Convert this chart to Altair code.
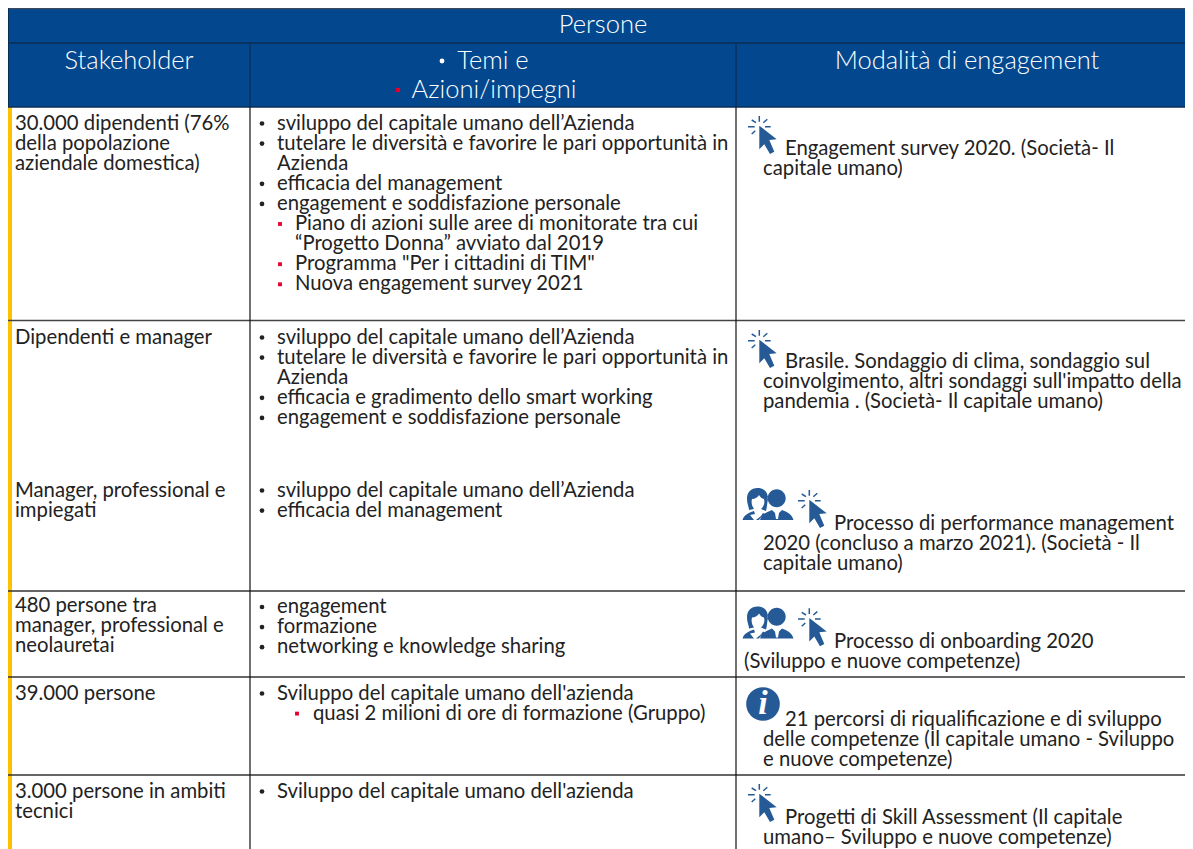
import altair as alt
import pandas as pd

FONT = "Lato"
BLUE = "#03488f"
INK = "#222222"
RED = "#e4002b"
ICON = "#255a96"
YELLOW = "#ffc000"

# ---------- table content ----------
title = "Persone"
headers = ["Stakeholder", "Temi e", "Azioni/impegni", "Modalità di engagement"]
header_x = [129, 493, 494, 967]
header_y = [61, 61, 90, 61]

stakeholder = [
    ["30.000 dipendenti (76%", "della popolazione", "aziendale domestica)"],
    ["Dipendenti e manager"],
    ["Manager, professional e", "impiegati"],
    ["480 persone tra", "manager, professional e", "neolauretai"],
    ["39.000 persone"],
    ["3.000 persone in ambiti", "tecnici"],
]
stakeholder_y = [123.5, 337.5, 490.5, 606, 693.5, 791.5]

themes = [
    [("b", "sviluppo del capitale umano dell’Azienda"),
     ("b", "tutelare le diversità e favorire le pari opportunità in"),
     ("c", "Azienda"),
     ("b", "efficacia del management"),
     ("b", "engagement e soddisfazione personale"),
     ("s", "Piano di azioni sulle aree di monitorate tra cui"),
     ("t", "“Progetto Donna” avviato dal 2019"),
     ("s", "Programma \"Per i cittadini di TIM\""),
     ("s", "Nuova engagement survey 2021")],
    [("b", "sviluppo del capitale umano dell’Azienda"),
     ("b", "tutelare le diversità e favorire le pari opportunità in"),
     ("c", "Azienda"),
     ("b", "efficacia e gradimento dello smart working"),
     ("b", "engagement e soddisfazione personale")],
    [("b", "sviluppo del capitale umano dell’Azienda"),
     ("b", "efficacia del management")],
    [("b", "engagement"), ("b", "formazione"), ("b", "networking e knowledge sharing")],
    [("b", "Sviluppo del capitale umano dell'azienda"),
     ("f", "quasi 2 milioni di ore di formazione (Gruppo)")],
    [("b", "Sviluppo del capitale umano dell'azienda")],
]
themes_y = [123.5, 337.5, 490.5, 607, 693.5, 791.5]

engagement = [
    ["Engagement survey 2020. (Società- Il", "capitale umano)"],
    ["Brasile. Sondaggio di clima, sondaggio sul",
     "coinvolgimento, altri sondaggi sull'impatto della",
     "pandemia . (Società- Il capitale umano)"],
    ["Processo di performance management",
     "2020 (concluso a marzo 2021). (Società - Il", "capitale umano)"],
    ["Processo di onboarding 2020", "(Sviluppo e nuove competenze)"],
    ["21 percorsi di riqualificazione e di sviluppo",
     "delle competenze (Il capitale umano - Sviluppo", "e nuove competenze)"],
    ["Progetti di Skill Assessment (Il capitale",
     "umano– Sviluppo e nuove competenze)"],
]
engagement_y = [148.5, 361.5, 523.5, 641.5, 719.5, 817.5]
engagement_x0 = [785, 785, 834, 834, 785, 785]
engagement_x1 = [763, 763, 763, 744, 763, 763]

cursor_x = [759.3, 759.3, 809.3, 809.3, 759.3]
cursor_y = [126.7, 340.7, 500.7, 619, 794.7]
people_x = [768, 768]
people_y = [505, 623.5]
info_x = [763]
info_y = [704]

LINE = 20.1

# ---------- tables built from the lists ----------
body, black, red = [], [], []
for lines, y in zip(stakeholder, stakeholder_y):
    for i, t in enumerate(lines):
        body.append({"t": t, "x": 15, "y": y + i * LINE})
text_x = {"b": 277, "c": 277, "s": 295, "t": 295, "f": 313}
for lines, y in zip(themes, themes_y):
    for i, (kind, t) in enumerate(lines):
        yy = y + i * LINE
        body.append({"t": t, "x": text_x[kind], "y": yy})
        if kind == "b":
            black.append({"x": 262, "y": yy})
        elif kind == "s":
            red.append({"x": 280, "y": yy})
        elif kind == "f":
            red.append({"x": 297, "y": yy})
for lines, y, x0, x1 in zip(engagement, engagement_y, engagement_x0, engagement_x1):
    for i, t in enumerate(lines):
        body.append({"t": t, "x": x0 if i == 0 else x1, "y": y + i * LINE})

body_df = pd.DataFrame(body)
head_df = pd.DataFrame({"t": [title] + headers,
                        "x": [603] + header_x,
                        "y": [25] + header_y})
black_df = pd.DataFrame(black)
red_df = pd.DataFrame(red)
cursor_df = pd.DataFrame({"x": cursor_x, "y": cursor_y})
people_df = pd.DataFrame({"x": people_x, "y": people_y})
info_df = pd.DataFrame({"x": info_x, "y": info_y})

# The page caps the drawing at 1177px wide, so the scale runs to 1185 in picture pixels.
X = alt.Scale(domain=[8, 1185], nice=False, zero=False)
Y = alt.Scale(domain=[849, 8], nice=False, zero=False)
def xe(f="x"): return alt.X(f"{f}:Q", scale=X, axis=None)
def ye(f="y"): return alt.Y(f"{f}:Q", scale=Y, axis=None)

header_rect = alt.Chart(pd.DataFrame({"x": [8], "x2": [1185], "y": [8], "y2": [107]})).mark_rect(
    color=BLUE, clip=False).encode(xe(), x2="x2:Q", y=ye(), y2="y2:Q")

yellow = alt.Chart(pd.DataFrame({"x": [8], "x2": [12], "y": [107], "y2": [849]})).mark_rect(
    color=YELLOW, clip=False).encode(xe(), x2="x2:Q", y=ye(), y2="y2:Q")

h_rules = pd.DataFrame({"x": [8] * 7,
                        "x2": [1185] * 7,
                        "y": [8.5, 43, 107, 320.5, 591, 677, 775],
                        "c": ["#3a4a5c", "#0b2e57", "#0b2e57", "#444444", "#333333", "#333333", "#333333"]})
h_rule_layer = alt.Chart(h_rules).mark_rule(strokeWidth=1.3).encode(
    xe(), x2="x2:Q", y=ye(), color=alt.Color("c:N", scale=None))
v_head = alt.Chart(pd.DataFrame({"x": [250, 736], "y": [43] * 2, "y2": [107] * 2})).mark_rule(
    color="#0b2e57", strokeWidth=1.3).encode(xe(), y=ye(), y2="y2:Q")
v_body = alt.Chart(pd.DataFrame({"x": [250, 736], "y": [107] * 2, "y2": [849] * 2})).mark_rule(
    color="#111111", strokeWidth=1.2).encode(xe(), y=ye(), y2="y2:Q")
v_left = alt.Chart(pd.DataFrame({"x": [8.5], "y": [8], "y2": [107]})).mark_rule(
    color="#0b2e57", strokeWidth=1).encode(xe(), y=ye(), y2="y2:Q")

head_text = alt.Chart(head_df).mark_text(font=FONT, fontSize=25.5, color="white", align="center",
                                         baseline="middle", fontWeight=300).encode(xe(), ye(), text="t:N")
head_b1 = alt.Chart(pd.DataFrame({"x": [442], "y": [61]})).mark_circle(size=24, color="white", opacity=1).encode(xe(), ye())
head_b2 = alt.Chart(pd.DataFrame({"x": [398], "y": [90]})).mark_square(size=18, color=RED, opacity=1).encode(xe(), ye())

body_text = alt.Chart(body_df).mark_text(font=FONT, fontSize=20.3, color=INK, align="left",
                                         baseline="middle").encode(xe(), ye(), text="t:N")
black_pts = alt.Chart(black_df).mark_circle(size=22, color=INK, opacity=1).encode(xe(), ye())
red_pts = alt.Chart(red_df).mark_square(size=15, color=RED, opacity=1).encode(xe(), ye())

ARROW = "M0,-1 L17.4,12.6 L10,13.3 L15,25 L10.7,27.3 L5,17.6 L0,22.6 Z"
SPARK = ("M0,-10.7 L0,-5 M-11.3,0 L-4.6,0 M5.7,0 L11.4,0 "
         "M-7.6,-6.7 L-3.3,-4 M4,-4 L8,-7.4 M-7.6,7.3 L-4,4")
PEOPLE = (
    "M8.7,-15.7 A9,9 0 1 1 8.69,-15.7 Z "
    "M-8,15 C-6,9 -1,7 4,5 L7,8 L8,14 L10,14 L11,8 L14,5 C19,7 24,9 25.5,15 Z "
    "M-10.5,-17 C-17,-17 -21,-13 -21,-6 C-21,-1 -19,2 -19,5 L-14,4 "
    "C-16,1 -17,-2 -16,-6 C-13,-6 -10,-8 -9,-10 C-7,-7 -5,-6 -4,-6 "
    "C-3,-2 -4,1 -7,4 L-2,6 C-1,2 -1,-1 0,-6 C0,-13 -4,-17 -10.5,-17 Z "
    "M-25.5,15 C-24,10 -20,8 -14,6 L-13,9 L-18,10 L-14,15 Z "
    "M-12,15 L-7,11 L-5,8 L-3,9 C-6,11 -8,13 -9,15 Z"
)
arrow = alt.Chart(cursor_df).mark_point(shape=ARROW, size=4, filled=True, color=ICON, opacity=1,
                                        strokeWidth=0).encode(xe(), ye())
spark = alt.Chart(cursor_df).mark_point(shape=SPARK, size=4, filled=False, color=ICON, opacity=1,
                                        strokeWidth=1.5).encode(xe(), ye())
people = alt.Chart(people_df).mark_point(shape=PEOPLE, size=4, filled=True, color=ICON, opacity=1,
                                         strokeWidth=0.6).encode(xe(), ye())
info_c = alt.Chart(info_df).mark_circle(size=1134, color=ICON, opacity=1).encode(xe(), ye())
info_i = alt.Chart(info_df.assign(t="i")).mark_text(font="Liberation Serif", fontSize=34, fontWeight="bold",
                                                    fontStyle="italic", color="white", align="center",
                                                    baseline="middle").encode(xe(), ye(), text="t:N")

chart = alt.layer(
    header_rect, yellow, h_rule_layer, v_head, v_body, v_left,
    head_text, head_b1, head_b2, body_text, black_pts, red_pts,
    arrow, spark, people, info_c, info_i,
).properties(width=1177, height=841, padding=0, autosize=alt.AutoSizeParams(type="none")
).configure_view(stroke=None)

chart.save("out.html", embed_options={"renderer": "svg", "actions": False})
